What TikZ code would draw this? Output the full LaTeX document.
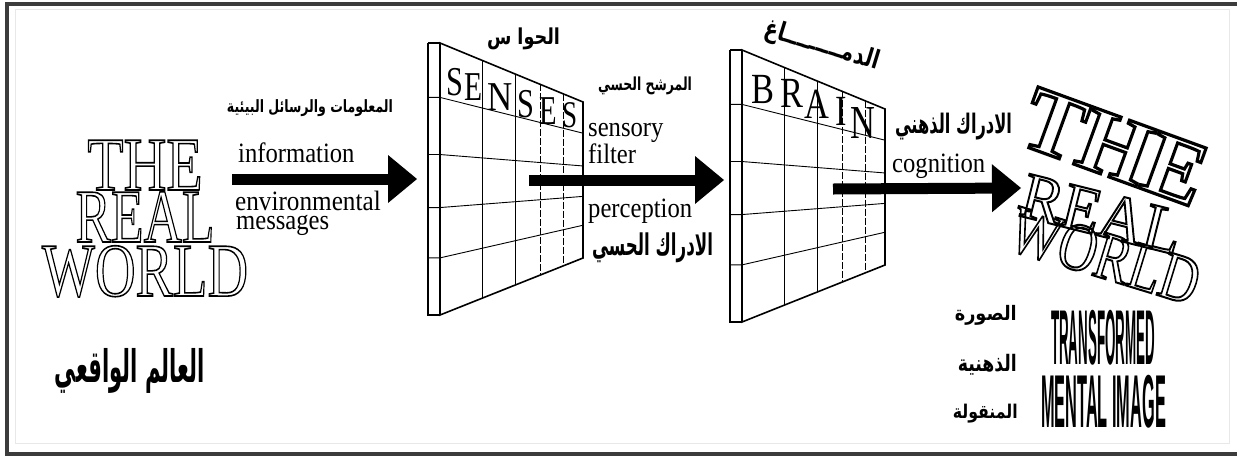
\documentclass[tikz,border=0pt]{standalone}
\usepackage{fontspec}
\setmainfont{Liberation Serif}
\newfontfamily\arabicfont[Script=Arabic]{DejaVu Sans}
\newfontfamily\condsans{Liberation Sans}
\TeXXeTstate=1
\usetikzlibrary{arrows.meta,calc}
\definecolor{framedark}{HTML}{3C3C3C}
\definecolor{framelight}{HTML}{E8E8E8}
\newcommand\hollowtxt[2][1.6]{\special{pdf:literal direct #1 w 1 Tr}#2\special{pdf:literal direct 0 Tr}}
\newcommand\artxt[3]{\resizebox*{#1pt}{#2pt}{\arabicfont\bfseries #3}}
\newcommand\drawpanel[1]{%
  \coordinate (#1TL) at (440,43);
  \coordinate (#1TR) at (583,102);
  \coordinate (#1BL) at (440,315);
  \coordinate (#1BR) at (583,258);
  \draw[stripline] (428,43) -- (428,315) -- (440,315);
  \draw[stripline] (428,43) -- (440,43);
  \foreach \f in {0.2,0.41,0.605,0.79}{
    \draw[gridline] ($(#1TL)!\f!(#1BL)+(-12,0)$) -- ($(#1TL)!\f!(#1BL)$) -- ($(#1TR)!\f!(#1BR)$);
  }
  \foreach \t in {0.294,0.531}{
    \draw[gridline] ($(#1TL)!\t!(#1TR)$) -- ($(#1BL)!\t!(#1BR)$);
  }
  \foreach \t in {0.699,0.86}{
    \draw[gridline,dash pattern=on 7pt off 2pt] ($(#1TL)!\t!(#1TR)$) -- ($(#1BL)!\t!(#1BR)$);
  }
  \draw[edgeline] (#1BL) -- (#1TL) -- (#1TR) -- (#1BR) -- cycle;
}
\begin{document}
\begin{tikzpicture}[x=1pt,y=-1pt,
  stripline/.style={line width=1.1pt},
  gridline/.style={line width=0.9pt},
  edgeline/.style={line width=1.6pt},
  lbl/.style={inner sep=0pt,anchor=base west,font=\fontsize{28}{28}\selectfont},
  ar/.style={inner sep=0pt},
  bigarrow/.style={line width=11pt,-{Triangle[length=29pt,width=48pt,line width=0pt]}},
  bigword/.style={inner sep=0pt}]
\useasboundingbox (0,0) rectangle (1237,456);
\fill[white] (0,0) rectangle (1237,456);
% frame
\draw[framelight,line width=1pt] (15,9) rectangle (1229,443);
\draw[framedark,line width=4pt] (1237,4) -- (7,4) -- (7,454) -- (1237,454);

% left: THE REAL WORLD
\node[bigword,anchor=base] (the1) at (145,190) {\fontsize{76}{76}\selectfont\hollowtxt{\scalebox{0.78}[1]{THE}}};
\node[bigword,anchor=base] (real1) at (145,242) {\fontsize{76}{76}\selectfont\hollowtxt{\scalebox{0.7}[1]{REAL}}};
\node[bigword,anchor=base] (world1) at (145,296) {\fontsize{76}{76}\selectfont\hollowtxt{\scalebox{0.74}[1]{WORLD}}};
\node[ar] (alam) at (130,370.5) {\artxt{150}{45}{\beginR العالم الواقعي\endR}};

% arrow 1 labels
\node[ar] (maalumat) at (310,108.5) {\artxt{166}{17}{\beginR المعلومات والرسائل البيئية\endR}};
\node[lbl] (info) at (238,162) {\scalebox{0.88}[1]{information}};
\node[lbl] (env) at (235,210) {\scalebox{0.9}[1]{environmental}};
\node[lbl] (msg) at (236,229) {\scalebox{0.88}[1]{messages}};

% SENSES panel
\drawpanel{s}
\node[ar] (hawas) at (523.5,39) {\artxt{73}{22}{\beginR الحوا س\endR}};
\begin{scope}[every node/.style={inner sep=0pt,anchor=base,font=\fontsize{41}{41}\selectfont}]
\node (sS1) at (455,95) {\scalebox{0.74}[1]{S}};
\node (sE1) at (474,100) {\scalebox{0.72}[1]{E}};
\node (sN) at (500,110) {\scalebox{0.85}[1]{N}};
\node (sS2) at (526,117) {\scalebox{0.74}[1]{S}};
\node (sE2) at (548,124) {\scalebox{0.7}[1]{E}};
\node (sS3) at (570,127) {\scalebox{0.66}[0.92]{S}};
\end{scope}

% arrow 2 labels
\node[ar] (murashah) at (645,86) {\artxt{94}{18}{\beginR المرشح الحسي\endR}};
\node[lbl] (sensory) at (588,136) {\scalebox{0.88}[1]{sensory}};
\node[lbl] (filter) at (588,163) {\scalebox{0.88}[1]{filter}};
\node[lbl] (percep) at (588,217) {\scalebox{0.88}[1]{perception}};
\node[ar] (idrakhissi) at (652.5,248) {\artxt{121}{30}{\beginR الادراك الحسي\endR}};

% BRAIN panel
\begin{scope}[shift={(302,7)}]
\drawpanel{b}
\end{scope}
\node[ar,rotate=-17] (dimagh) at (822,46) {\artxt{118}{26}{\beginR الدمـــــــــاغ\endR}};
\begin{scope}[every node/.style={inner sep=0pt,anchor=base,font=\fontsize{43}{43}\selectfont}]
\node (bB) at (763,103) {\scalebox{0.8}[1]{B}};
\node (bR) at (792,107) {\scalebox{0.8}[1]{R}};
\node (bA) at (817,118) {\scalebox{0.8}[1]{A}};
\node (bI) at (841,125) {\scalebox{0.8}[1]{I}};
\node (bN) at (863,138) {\scalebox{0.8}[1.1]{N}};
\end{scope}

% arrow 3 labels
\node[ar] (idrakdhihni) at (953.5,126.5) {\artxt{117}{27}{\beginR الادراك الذهني\endR}};
\node[lbl] (cog) at (892,172) {\scalebox{0.88}[1]{cognition}};

% right: transformed THE REAL WORLD
\node[bigword,rotate=-20] (the2) at (1115,147) {\fontsize{92}{92}\selectfont\bfseries\hollowtxt[3.2]{\scalebox{0.97}[1]{THE}}};
\node[bigword,rotate=-14] (real2) at (1102,214) {\fontsize{66}{66}\selectfont\hollowtxt[2]{\scalebox{0.95}[1]{REAL}}};
\node[bigword,rotate=-17] (world2) at (1105,256) {\fontsize{68}{68}\selectfont\hollowtxt[2]{\scalebox{0.78}[1]{WORLD}}};
\node[inner sep=0pt] (transf) at (1103,337.5) {\resizebox*{104pt}{55pt}{\condsans\bfseries TRANSFORMED}};
\node[inner sep=0pt] (mental) at (1103.5,401.5) {\resizebox*{125pt}{53pt}{\condsans\bfseries MENTAL IMAGE}};
\node[ar,anchor=east] (sura) at (1017,315) {\artxt{62}{20}{\beginR الصورة\endR}};
\node[ar,anchor=east] (dhihniya) at (1017,364.5) {\artxt{59}{21}{\beginR الذهنية\endR}};
\node[ar,anchor=east] (manqula) at (1018,413.5) {\artxt{65}{19}{\beginR المنقولة\endR}};

% arrows
\coordinate (a1s) at (232,179);
\coordinate (a1e) at (417,179);
\coordinate (a2s) at (529,180);
\coordinate (a2e) at (724,180);
\coordinate (a3s) at (833,189);
\coordinate (a3e) at (1021,188);
\draw[bigarrow] (a1s) -- (a1e);
\draw[bigarrow] (a2s) -- (a2e);
\draw[bigarrow] (a3s) -- (a3e);
\end{tikzpicture}
\end{document}
